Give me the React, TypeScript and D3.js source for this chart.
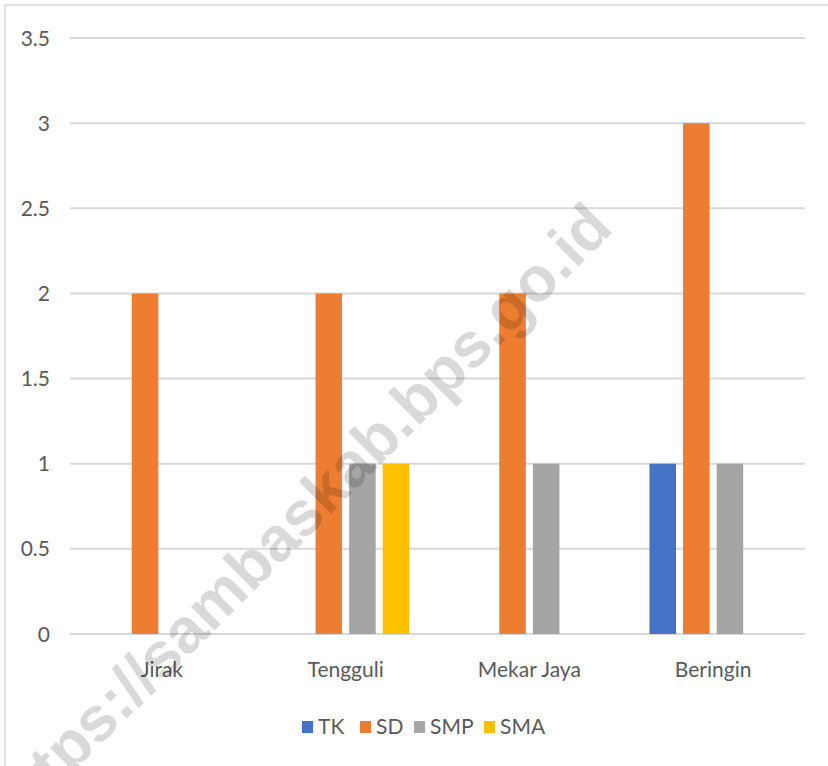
import React from "react";
import * as d3 from "d3";

const categories = ["Jirak", "Tengguli", "Mekar Jaya", "Beringin"];
const seriesNames = ["TK", "SD", "SMP", "SMA"];
const seriesColors = ["#4472C4", "#ED7D31", "#A5A5A5", "#FFC000"];
const TK = [0, 0, 0, 1];
const SD = [2, 2, 2, 3];
const SMP = [0, 1, 1, 1];
const SMA = [0, 1, 0, 0];
const yTicks = [0, 0.5, 1, 1.5, 2, 2.5, 3, 3.5];

const values = [TK, SD, SMP, SMA];

const W = 828;
const H = 766;
const font = "Lato, 'Liberation Sans', sans-serif";

export default function App() {
  const x0 = d3.scaleBand().domain(categories).range([70, 805]).padding(0);
  const x1 = d3
    .scaleBand()
    .domain(seriesNames)
    .range([0, x0.bandwidth()])
    .paddingInner(0.21)
    .paddingOuter(0.84);
  const y = d3.scaleLinear().domain([0, 3.5]).range([634, 38]);

  const legendX = [302, 360, 414, 484];

  return (
    <svg width={W} height={H} style={{ position: "absolute", left: 0, top: 0 }}>
      <rect width={W} height={H} fill="#fff" />
      <rect x={5} y={5} width={W + 20} height={H + 20} fill="none" stroke="#d9d9d9" strokeWidth={1.5} />

      {yTicks.map((t) => (
        <g key={t}>
          <line x1={70} x2={805} y1={y(t)} y2={y(t)} stroke="#d9d9d9" strokeWidth={2} />
          <text x={50} y={y(t) + 7.5} textAnchor="end" fontFamily={font} fontSize={21} fill="#595959">
            {t}
          </text>
        </g>
      ))}

      {categories.map((c, i) => (
        <g key={c} transform={`translate(${x0(c)},0)`}>
          {seriesNames.map((s, j) =>
            values[j][i] > 0 ? (
              <rect
                key={s}
                x={x1(s)}
                y={y(values[j][i])}
                width={x1.bandwidth()}
                height={y(0) - y(values[j][i])}
                fill={seriesColors[j]}
              />
            ) : null
          )}
          <text x={x0.bandwidth() / 2} y={677} textAnchor="middle" fontFamily={font} fontSize={21} fill="#595959">
            {c}
          </text>
        </g>
      ))}

      {seriesNames.map((s, j) => (
        <g key={s} transform={`translate(${legendX[j]},0)`}>
          <rect x={0} y={721} width={11} height={12} fill={seriesColors[j]} />
          <text x={16} y={734} fontFamily={font} fontSize={21} fill="#595959">
            {s}
          </text>
        </g>
      ))}

      <text
        transform="translate(615,230) rotate(-45)"
        textAnchor="end"
        fontFamily="'Liberation Sans', Arial, sans-serif"
        fontWeight="bold"
        fontSize={63}
        fill="#000"
        fillOpacity={0.15}
      >
        https://sambaskab.bps.go.id
      </text>
    </svg>
  );
}
